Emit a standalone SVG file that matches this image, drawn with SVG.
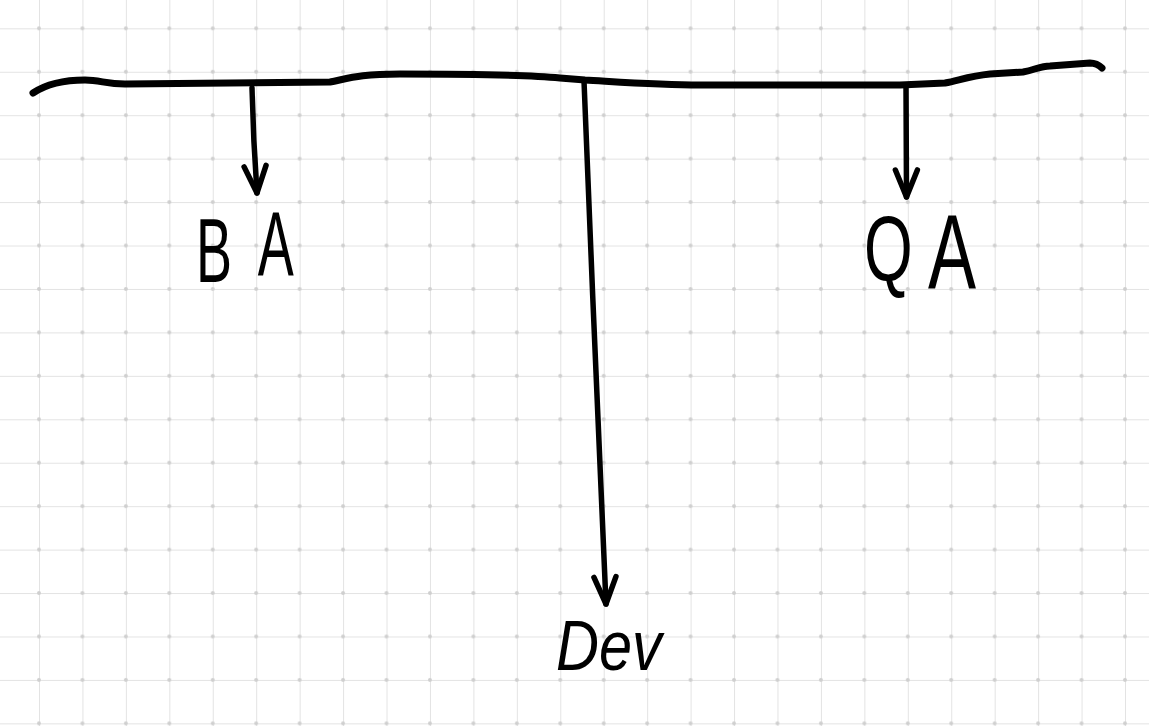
<svg xmlns="http://www.w3.org/2000/svg" width="1149" height="726" viewBox="0 0 1149 726">
  <defs>
    <pattern id="grid" patternUnits="userSpaceOnUse" x="39" y="28.33" width="43.44" height="43.44">
      <path d="M0,0 H43.44 M0,0 V43.44" fill="none" stroke="#e3e3e3" stroke-width="2"/>
      <circle cx="0" cy="0" r="2" fill="#cfcfcf"/>
      <circle cx="43.44" cy="0" r="2" fill="#cfcfcf"/>
      <circle cx="0" cy="43.44" r="2" fill="#cfcfcf"/>
      <circle cx="43.44" cy="43.44" r="2" fill="#cfcfcf"/>
    </pattern>
    <marker id="head" markerUnits="userSpaceOnUse" orient="auto" viewBox="-32 -16 36 32" refX="0" refY="0" markerWidth="36" markerHeight="32" overflow="visible">
      <path d="M-27,-11 L0,0 L-27,11" fill="none" stroke="#000" stroke-width="5.5" stroke-linecap="round" stroke-linejoin="round"/>
    </marker>
  </defs>
  <style>
    .ink { fill: none; stroke: #000; stroke-linecap: round; stroke-linejoin: round; }
    .label { font-family: "Liberation Sans", Arial, sans-serif; fill: #000; }
  </style>
  <rect width="1149" height="726" fill="#ffffff"/>
  <rect width="1149" height="726" fill="url(#grid)"/>

  <g id="timeline">
    <path class="ink" stroke-width="7" d="M33,93 C45,85 62,80 85,80 C100,80 106,84 125,84 L330,82 C350,78 360,74 400,74 C450,74 520,74 560,78 L585,80 C620,82 660,85 700,85 L900,85 L945,83 C960,80 970,76 990,74 L1023,72 C1035,70 1040,66 1050,66 L1090,63 C1095,63 1100,66 1102,68"/>
  </g>

  <g id="connectors">
    <path class="ink" stroke-width="5.5" marker-end="url(#head)" d="M252,88 C253,130 255,165 257,193"/>
    <path class="ink" stroke-width="5.5" marker-end="url(#head)" d="M584,81 C590,250 600,450 606,604"/>
    <path class="ink" stroke-width="5.5" marker-end="url(#head)" d="M906,86 L906.5,197"/>
  </g>

  <g id="BA">
    <text class="label" font-size="90" transform="translate(196,282) scale(0.6,1)"><tspan x="0">B</tspan><tspan x="103" dy="-7">A</tspan></text>
  </g>

  <g id="QA">
    <text class="label" font-size="92" transform="translate(864,280) scale(0.68,1)"><tspan x="0">Q</tspan><tspan x="94" dy="8" font-size="106">A</tspan></text>
  </g>

  <g id="Dev">
    <text class="label" font-size="70" font-style="italic" transform="translate(556,670) scale(0.85,1)">Dev</text>
  </g>
</svg>
